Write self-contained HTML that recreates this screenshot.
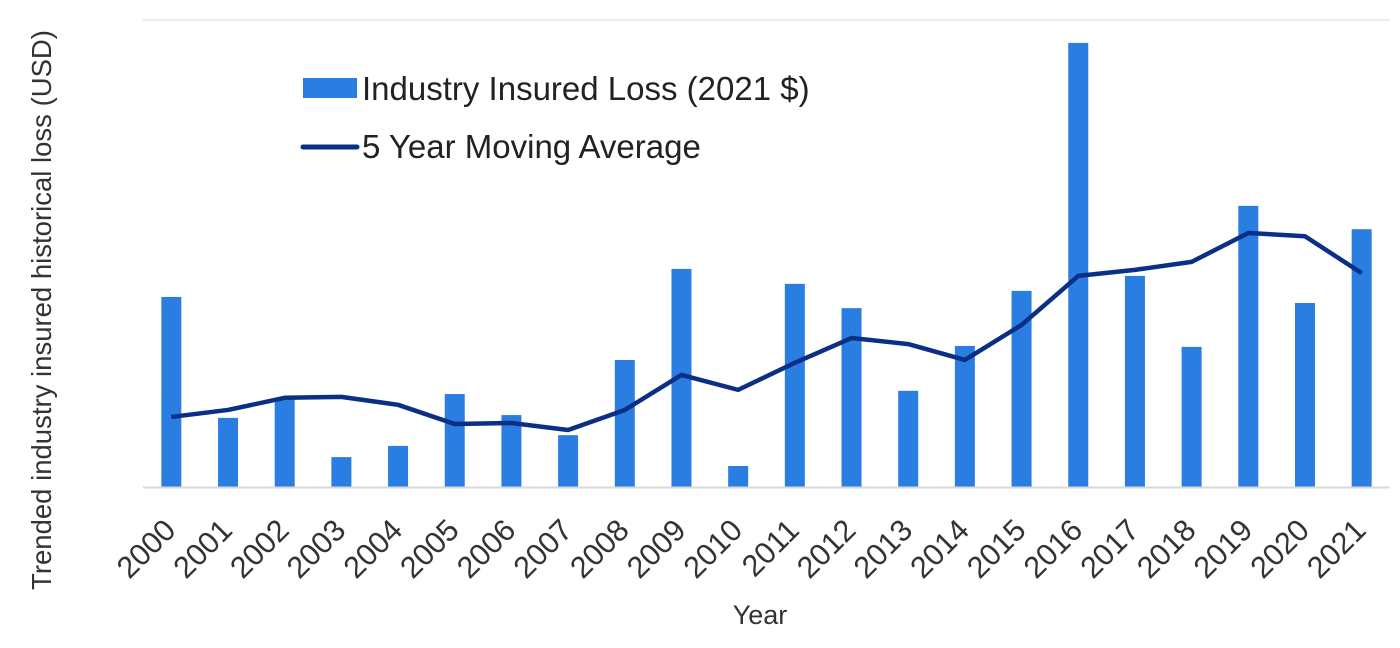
<!DOCTYPE html>
<html><head><meta charset="utf-8"><style>
body{margin:0;background:#fff;}
svg{display:block;font-family:"Liberation Sans",Arial,sans-serif;}
</style></head><body>
<svg id="chart" width="1400" height="648" viewBox="0 0 1400 648">
<line x1="143" y1="20" x2="1390" y2="20" stroke="#e3e3e3" stroke-width="1.5"/>
<g id="bars"></g>
<line x1="143" y1="487.5" x2="1390" y2="487.5" stroke="#d9d9d9" stroke-width="2"/>
<g id="line"></g>
<g id="ticks"></g>
<text x="0" y="0" transform="translate(51,310) rotate(-90)" text-anchor="middle" font-size="27.5" fill="#333">Trended industry insured historical loss (USD)</text>
<text x="760" y="624" text-anchor="middle" font-size="27" fill="#333">Year</text>
<g>
<rect x="303" y="78" width="54" height="20" fill="#2a7de1"/>
<text x="362" y="100" font-size="33" fill="#222">Industry Insured Loss (2021 $)</text>
<line x1="303" y1="147" x2="357" y2="147" stroke="#0b2f86" stroke-width="5" stroke-linecap="round"/>
<text x="362" y="158" font-size="33" fill="#222">5 Year Moving Average</text>
</g>
</svg>
<script>
const years=["2000","2001","2002","2003","2004","2005","2006","2007","2008","2009","2010","2011","2012","2013","2014","2015","2016","2017","2018","2019","2020","2021"];
const losses=[40.7,14.8,19.1,6.4,8.8,19.9,15.4,11.1,27.2,46.7,4.5,43.5,38.3,20.6,30.2,42.0,95.1,45.2,30.0,60.2,39.4,55.2];
const movingAvg=[15.0,16.5,19.1,19.3,17.6,13.5,13.7,12.2,16.5,24.0,20.8,26.6,31.9,30.6,27.2,34.7,45.2,46.5,48.2,54.4,53.7,45.8];
const NS='http://www.w3.org/2000/svg';
const x0=143,x1=1390,yBase=487,yTop=20,yMax=100;
const step=(x1-x0)/years.length;
function xs(i){return x0+step*(i+0.5);}
function ys(v){return yBase-(yBase-yTop)*v/yMax;}
const gb=document.getElementById('bars'),gl=document.getElementById('line'),gt=document.getElementById('ticks');
losses.forEach((v,i)=>{
 const r=document.createElementNS(NS,'rect');
 r.setAttribute('x',xs(i)-10);r.setAttribute('width',20);
 r.setAttribute('y',ys(v));r.setAttribute('height',yBase-ys(v));
 r.setAttribute('fill','#2a7de1');
 
 
 gb.appendChild(r);
});
const p=document.createElementNS(NS,'polyline');
p.setAttribute('points',movingAvg.map((v,i)=>xs(i)+','+ys(v)).join(' '));
p.setAttribute('fill','none');p.setAttribute('stroke','#0b2f86');p.setAttribute('stroke-width','4.5');p.setAttribute('stroke-linejoin','round');


gl.appendChild(p);
years.forEach((y,i)=>{
 const t=document.createElementNS(NS,'text');
 const cx=xs(i)+6,cy=532;
 t.setAttribute('x',cx);t.setAttribute('y',cy);
 t.setAttribute('transform','rotate(-45 '+cx+' '+cy+')');
 t.setAttribute('text-anchor','end');t.setAttribute('font-size','30.5');t.setAttribute('fill','#333');
 t.textContent=y;
 
 
 gt.appendChild(t);
});
</script>
</body></html>
